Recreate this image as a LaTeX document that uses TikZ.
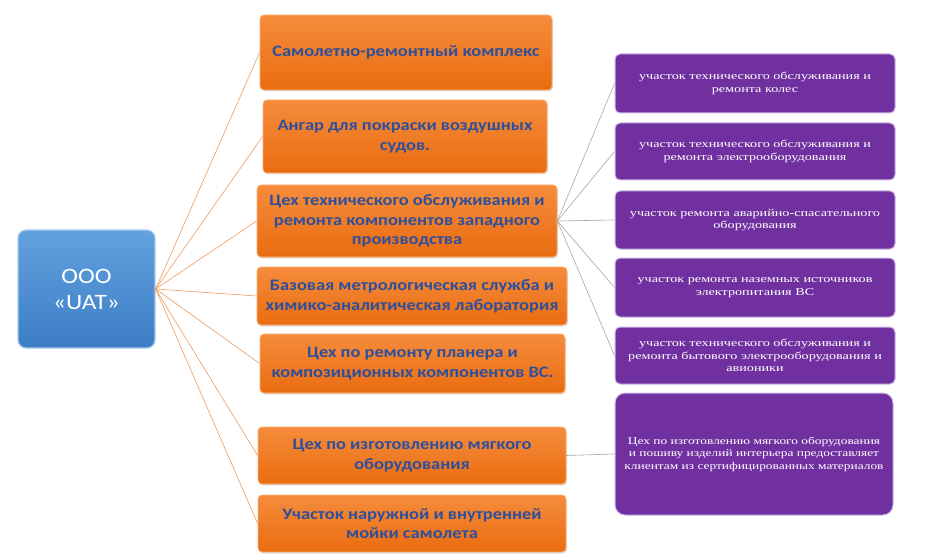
\documentclass[tikz,border=0pt]{standalone}
\usepackage{fontspec}
\usetikzlibrary{shadows}
\newfontfamily\ofont[FakeStretch=1.15]{Carlito}
\newfontfamily\pfont[FakeStretch=1.35]{Liberation Serif}
\newfontfamily\pfontb[FakeStretch=1.3]{Liberation Serif}
\definecolor{orTop}{HTML}{F58C3C}
\definecolor{orBot}{HTML}{EA6C10}
\definecolor{orEdge}{HTML}{F8B07A}
\definecolor{orText}{HTML}{2E4F9C}
\definecolor{puFill}{HTML}{7030A0}
\definecolor{puEdge}{HTML}{CDB8E4}
\definecolor{blTop}{HTML}{62A2DE}
\definecolor{blBot}{HTML}{3D7DC6}
\definecolor{blEdge}{HTML}{A9CCEE}
\definecolor{orLine}{HTML}{EE9A5E}
\definecolor{grLine}{HTML}{A6A6A6}
\tikzset{
  orbox/.style={draw=orEdge, line width=0.8pt, top color=orTop, bottom color=orBot,
    rounded corners=4pt, align=center, inner sep=2pt,
    font=\ofont\bfseries\fontsize{16}{19.5}\selectfont, text=orText,
    drop shadow={shadow xshift=1pt, shadow yshift=-1.5pt, opacity=0.25}},
  pubox/.style={draw=puEdge, line width=1pt, fill=puFill, rounded corners=5pt,
    align=center, inner sep=2pt, text=white,
    font=\pfont\fontsize{10.5}{12.5}\selectfont},
  blbox/.style={draw=blEdge, line width=1.2pt, top color=blTop, bottom color=blBot,
    rounded corners=8pt, align=center, text=white,
    font=\ofont\fontsize{22}{26}\selectfont},
  orcon/.style={draw=orLine, line width=0.6pt},
  grcon/.style={draw=grLine, line width=0.6pt},
}
\newcommand{\boxat}[7]{% style, name, x1, x2, y1, y2, text
  \node[#1, minimum width={(#4-#3)*1pt}, minimum height={(#6-#5)*1pt}]
    (#2) at ({(#3+#4)/2}, {(#5+#6)/2}) {#7};}
\begin{document}
\begin{tikzpicture}[x=1pt, y=-1pt]
\useasboundingbox (0,0) rectangle (943,559);
\fill[white] (0,0) rectangle (943,559);
\boxat{blbox}{ua}{18}{155}{230}{348}{ООО\\«UAT»}
\boxat{orbox}{o1}{260}{552}{15}{90}{Самолетно-ремонтный комплекс}
\boxat{orbox}{o2}{263}{547}{100}{173}{Ангар для покраски воздушных\\судов.}
\boxat{orbox}{o3}{257}{557}{185}{257}{Цех технического обслуживания и\\ремонта компонентов западного\\производства}
\boxat{orbox}{o4}{257}{567}{267}{325}{Базовая метрологическая служба и\\химико-аналитическая лаборатория}
\boxat{orbox}{o5}{260}{565}{334}{393}{Цех по ремонту планера и\\композиционных компонентов ВС.}
\boxat{orbox}{o6}{258}{566}{427}{484}{Цех по изготовлению мягкого\\оборудования}
\boxat{orbox}{o7}{258}{566}{495}{552}{Участок наружной и внутренней\\мойки самолета}
\boxat{pubox}{p1}{615}{895}{54}{113}{участок технического обслуживания и\\ремонта колес}
\boxat{pubox}{p2}{615}{895}{123}{180}{участок технического обслуживания и\\ремонта электрооборудования}
\boxat{pubox}{p3}{615}{895}{191}{249}{участок ремонта аварийно-спасательного\\оборудования}
\boxat{pubox}{p4}{615}{895}{258}{317}{участок ремонта наземных источников\\электропитания ВС}
\boxat{pubox}{p5}{615}{895}{327}{384}{участок технического обслуживания и\\ремонта бытового электрооборудования и\\авионики}
\node[pubox, rounded corners=10pt, minimum width=278pt, minimum height=122pt,
  font=\pfontb\fontsize{10.3}{12.5}\selectfont] (p6) at (754,454)
  {Цех по изготовлению мягкого оборудования\\и пошиву изделий интерьера предоставляет\\клиентам из сертифицированных материалов};
\foreach \o in {o1,o2,o3,o4,o5,o6,o7} \draw[orcon] (ua.east) -- (\o.west);
\foreach \p in {p1,p2,p3,p4,p5} \draw[grcon] (o3.east) -- (\p.west);
\draw[grcon] (o6.east) -- (p6.west);
\end{tikzpicture}
\end{document}
